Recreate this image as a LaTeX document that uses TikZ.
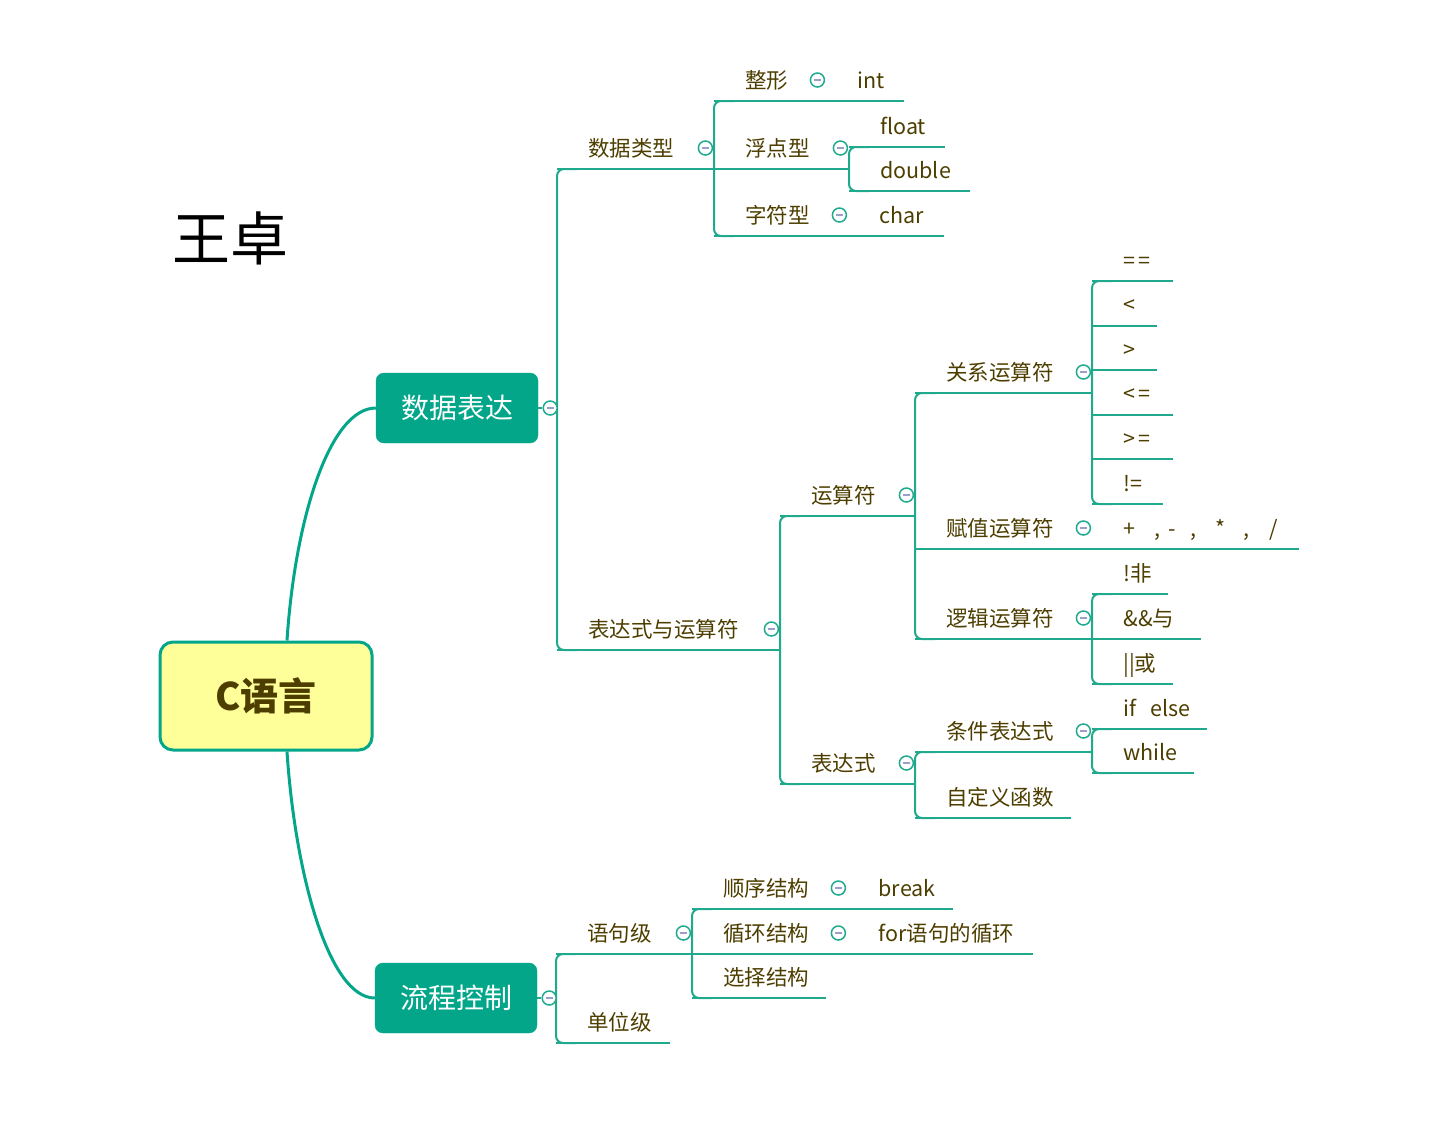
\documentclass[tikz,border=0pt]{standalone}
\usepackage{fontspec}
\setmainfont{Noto Sans CJK SC}
\usetikzlibrary{positioning, calc}
\definecolor{CLteal}{HTML}{04A68A}
\definecolor{CLline}{HTML}{1FAA8E}
\definecolor{CLink}{HTML}{4D3E00}
\definecolor{CLyellow}{HTML}{FFFF99}
\definecolor{CLminus}{HTML}{9C9ECC}
\tikzset{
  cltopic/.style={anchor=south west, inner xsep=0pt, inner ysep=0pt, text width=#1,
    align=left, text height=22pt, text depth=12.8pt, text=CLink,
    font=\fontsize{21.5pt}{26pt}\selectfont, execute at begin node={\hspace*{31pt}}},
  clbranch/.style={rectangle, rounded corners=8pt, fill=CLteal, draw=CLteal,
    text=white, minimum width=162pt, minimum height=70pt,
    font=\fontsize{28pt}{34pt}\selectfont},
  clroot/.style={rectangle, rounded corners=13pt, fill=CLyellow, draw=CLteal,
    line width=3pt, text=CLink, minimum width=212pt, minimum height=108pt,
    font=\fontsize{38pt}{44pt}\selectfont\bfseries},
  cltitle/.style={text=black, font=\fontsize{58pt}{64pt}\selectfont},
  clfold/.style={circle, draw=CLline, fill=white, line width=1.5pt, minimum size=14pt,
    inner sep=0pt, path picture={\draw[CLminus, line width=1.6pt]
      ([xshift=-3.5pt]path picture bounding box.center) -- ([xshift=3.5pt]path picture bounding box.center);}},
  clline/.style={draw=CLline, line width=2pt},
  clcurve/.style={draw=CLteal, line width=3pt},
}
\begin{document}
\begin{tikzpicture}[x=1pt, y=-1pt]
  \useasboundingbox (0,0) rectangle (1434,1136);
  \node[cltitle] (author) at (230,238) {王卓};
  \node[clroot] (root) at (266,696) {C语言};
  \node[clbranch] (sj) at (457,408) {数据表达};
  \node[clbranch] (lc) at (456,998) {流程控制};

  \node[cltopic=157pt] (dtype) at (557,169) {数据类型};
  \node[cltopic=112pt] (zx) at (714,101) {整形};
  \node[cltopic=77pt] (int) at (zx.south east) {int};
  \node[cltopic=135pt] (fdx) at (714,169) {浮点型};
  \node[cltopic=96pt] (flt) at (849,147) {float};
  \node[cltopic=121pt] (dbl) at (849,191) {double};
  \node[cltopic=134pt] (zfx) at (714,236) {字符型};
  \node[cltopic=95pt] (chr) at (zfx.south east) {char};

  \node[cltopic=223pt] (bds) at (557,650) {表达式与运算符};
  \node[cltopic=135pt] (ysf) at (780,516) {运算符};
  \node[cltopic=177pt] (gx) at (915,393) {关系运算符};
  \node[cltopic=81pt] (eq) at (1092,281) {=\,=};
  \node[cltopic=65pt] (lt) at (1092,325.6) {<};
  \node[cltopic=65pt] (gt) at (1092,370.2) {>};
  \node[cltopic=81pt] (le) at (1092,414.8) {<\,=};
  \node[cltopic=81pt] (ge) at (1092,459.4) {>\,=};
  \node[cltopic=71pt] (ne) at (1092,504) {!=};
  \node[cltopic=177pt] (fz) at (915,549) {赋值运算符};
  \node[cltopic=206pt] (ops) at (fz.south east)
    {+\hspace{19pt},\hspace{8pt}-\hspace{15pt},\hspace{19pt}*\hspace{18pt},\hspace{20pt}/};
  \node[cltopic=177pt] (lj) at (915,639) {逻辑运算符};
  \node[cltopic=76pt] (fei) at (1092,594) {!非};
  \node[cltopic=108pt] (yu) at (lj.south east) {\&\&与};
  \node[cltopic=81pt] (huo) at (1092,684) {||或};
  \node[cltopic=135pt] (bdsx) at (780,784) {表达式};
  \node[cltopic=177pt] (tj) at (915,752) {条件表达式};
  \node[cltopic=115pt] (ife) at (1092,729) {if\ \ else};
  \node[cltopic=102pt] (whl) at (1092,773) {while};
  \node[cltopic=156pt] (zdy) at (915,818) {自定义函数};

  \node[cltopic=136pt] (yjj) at (556,954) {语句级};
  \node[cltopic=155pt] (sx) at (692,909) {顺序结构};
  \node[cltopic=105pt] (brk) at (sx.south east) {break};
  \node[cltopic=155pt] (xh) at (692,954) {循环结构};
  \node[cltopic=185pt] (forx) at (xh.south east) {for语句的循环};
  \node[cltopic=134pt] (xz) at (692,998) {选择结构};
  \node[cltopic=114pt] (dwj) at (556,1043) {单位级};

  \draw[clcurve] ([xshift=21pt]root.north) .. controls +(8,-122) and +(-46,0) .. (sj.west);
  \draw[clcurve] ([xshift=21pt]root.south) .. controls +(8,122) and +(-46,0) .. (lc.west);

  \foreach \n in {dtype,zx,int,fdx,flt,dbl,zfx,chr,bds,ysf,gx,eq,lt,gt,le,ge,ne,fz,ops,
      lj,fei,yu,huo,bdsx,tj,ife,whl,zdy,yjj,sx,brk,xh,forx,xz,dwj}
    \draw[clline] (\n.south west) -- (\n.south east);
  \foreach \a/\b in {dtype/bds,zx/zfx,flt/dbl,ysf/bdsx,gx/lj,eq/ne,fei/huo,tj/zdy,
      ife/whl,yjj/dwj,sx/xz}
    \draw[clline, rounded corners=7pt] ([xshift=20pt]\a.south west) -- (\a.south west)
      -- (\b.south west) -- ([xshift=20pt]\b.south west);

  \node[clfold] (sj-f) at ([xshift=12pt]sj.east) {};
  \node[clfold] (lc-f) at ([xshift=12pt]lc.east) {};
  \draw[clline] (sj.east) -- (sj-f);
  \draw[clline] (lc.east) -- (lc-f);
  \foreach \n in {dtype,zx,fdx,zfx,bds,ysf,gx,fz,lj,bdsx,tj,yjj,sx,xh}
    \node[clfold] (\n-f) at ([xshift=-9pt,yshift=21pt]\n.south east) {};
\end{tikzpicture}
\end{document}
